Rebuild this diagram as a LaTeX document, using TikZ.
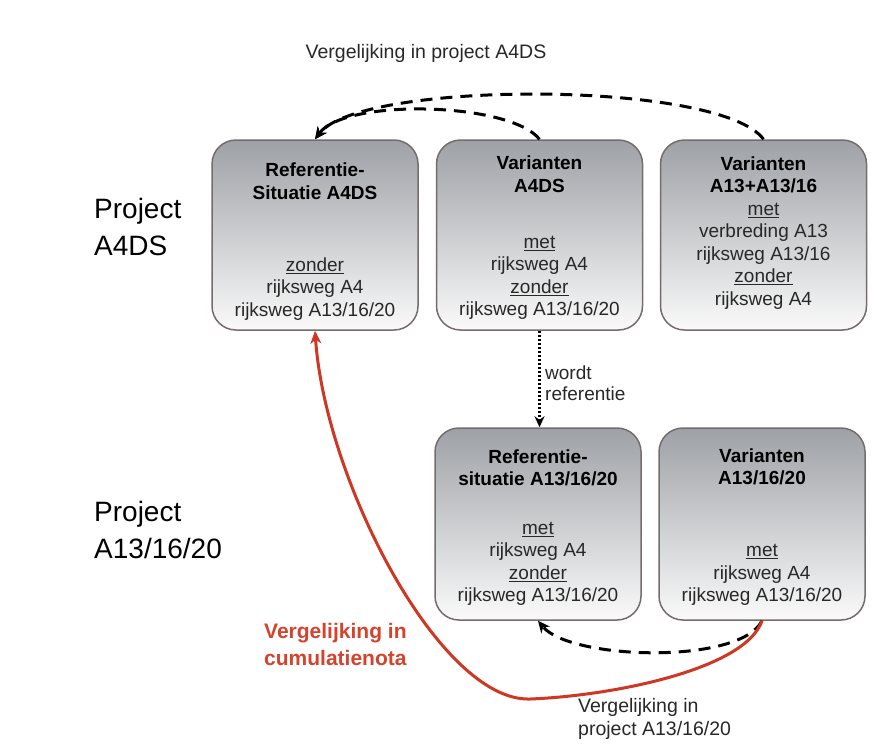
\documentclass[tikz,border=0pt]{standalone}
\usepackage{fontspec}
\setmainfont{Liberation Sans}
\usetikzlibrary{arrows.meta}
\definecolor{boxedge}{RGB}{118,108,108}
\definecolor{boxtop}{RGB}{158,161,166}
\definecolor{boxmid}{RGB}{212,213,216}
\definecolor{boxbot}{RGB}{250,250,250}
\definecolor{txtgray}{RGB}{40,40,40}
\definecolor{redline}{RGB}{205,55,35}
\definecolor{redtext}{RGB}{212,68,45}
\tikzset{
  box/.style={draw=boxedge, line width=1.5pt, rounded corners=24pt,
    minimum width=206pt, inner sep=0pt,
    top color=boxtop, middle color=boxmid, bottom color=boxbot},
  boxtitle/.style={font=\fontsize{19}{22.5}\selectfont\bfseries, align=center, inner sep=0pt, text=black},
  boxbody/.style={font=\fontsize{19}{22.5}\selectfont, align=center, inner sep=0pt, text=txtgray},
  projlabel/.style={font=\fontsize{28}{37}\selectfont, align=left, anchor=west, inner sep=0pt, text=black},
  plainlabel/.style={font=\fontsize{19.5}{23}\selectfont, align=left, inner sep=0pt, text=txtgray},
  dasharrow/.style={line width=3pt, dash pattern=on 12pt off 8pt, -{Stealth[length=12pt,width=11pt]}},
  dotarrow/.style={line width=3pt, dash pattern=on 2.2pt off 1.8pt, -{Stealth[length=11pt,width=10pt]}},
  redarrow/.style={draw=redline, line width=3pt, -{Stealth[length=13pt,width=11pt]}}
}
\begin{document}
\begin{tikzpicture}[x=1pt,y=-1pt]
\useasboundingbox[fill=white] (0,0) rectangle (874,747);

% boxes
\node[box, minimum height=190pt] (b1) at (315,235) {};
\node[box, minimum height=190pt] (b2) at (539.5,235) {};
\node[box, minimum height=190pt] (b3) at (763.5,235) {};
\node[box, minimum height=192pt] (b4) at (538,524) {};
\node[box, minimum height=192pt] (b5) at (762,524) {};

% box texts
\node[boxtitle] (t1) at (315,181) {Referentie-\\Situatie A4DS};
\node[boxbody] (d1) at (315,289) {\underline{zonder}\\rijksweg A4\\rijksweg A13/16/20};

\node[boxtitle] (t2) at (539.5,174) {Varianten\\A4DS};
\node[boxbody] (d2) at (539.5,278) {\underline{met}\\rijksweg A4\\\underline{zonder}\\rijksweg A13/16/20};

\node[boxbody] (d3) at (763.5,233) {\textbf{\textcolor{black}{Varianten}}\\\textbf{\textcolor{black}{A13+A13/16}}\\\underline{met}\\verbreding A13\\rijksweg A13/16\\\underline{zonder}\\rijksweg A4};

\node[boxtitle] (t4) at (538,468) {Referentie-\\situatie A13/16/20};
\node[boxbody] (d4) at (538,564) {\underline{met}\\rijksweg A4\\\underline{zonder}\\rijksweg A13/16/20};

\node[boxtitle] (t5) at (762,467) {Varianten\\A13/16/20};
\node[boxbody] (d5) at (762,575) {\underline{met}\\rijksweg A4\\rijksweg A13/16/20};

% side labels
\node[projlabel] (p1) at (94,227) {Project\\A4DS};
\node[projlabel] (p2) at (94,530) {Project\\A13/16/20};

% other labels
\node[plainlabel] (lt) at (426,53) {Vergelijking in project A4DS};
\node[plainlabel, anchor=west, font=\fontsize{19}{20.5}\selectfont] (lw) at (545,383) {wordt\\referentie};
\node[plainlabel, anchor=west] (lb) at (578,719) {Vergelijking in\\project A13/16/20};
\node[anchor=west, align=left, inner sep=0pt, text=redtext,
      font=\fontsize{21}{27}\selectfont\bfseries] (lr) at (264,644) {Vergelijking in\\cumulatienota};

% connectors
\draw[dasharrow] (b2.north) .. controls (510,102) and (345,98) .. (b1.north);
\draw[dasharrow] (b3.north) .. controls (720,80) and (360,80) .. (b1.north);
\draw[dotarrow] (b2.south) -- (b2.south |- b4.north);
\draw[dasharrow] (b5.south) .. controls (740,665) and (570,660) .. (b4.south);
\draw[redarrow] (b5.south) .. controls (745,670) and (610,696) .. (530,699)
   .. controls (440,702) and (325,480) .. (b1.south);
\end{tikzpicture}
\end{document}
